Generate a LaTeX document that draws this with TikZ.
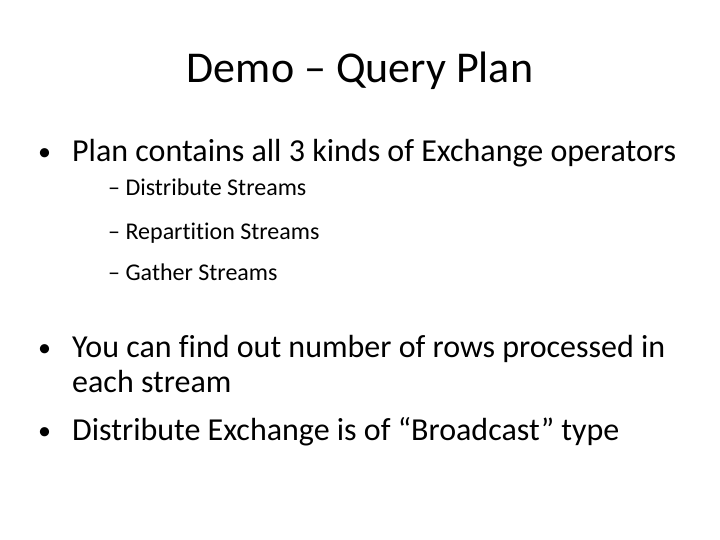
\documentclass[tikz,border=0pt]{standalone}
\usepackage{fontspec}
\setmainfont[Ligatures=NoCommon]{Carlito}
\begin{document}
\begin{tikzpicture}[x=1pt,y=-1pt,
  txt/.style={anchor=base west,inner sep=0pt,font=\fontsize{32}{38}\selectfont},
  bul/.style={anchor=base west,inner sep=0pt,font=\fontsize{26}{30}\selectfont},
  sub/.style={anchor=base west,inner sep=0pt,font=\fontsize{24}{28}\selectfont}]
\useasboundingbox[fill=white] (0,0) rectangle (720,540);
\node[anchor=base,inner sep=0pt,font=\fontsize{44}{50}\selectfont] (title) at (360,83) {Demo – Query Plan};
\node[bul] (b1) at (38,161) {•};
\node[txt] (t1) at (72,162) {Plan contains all 3 kinds of Exchange operators};
\node[sub] (s1) at (108,196) {– Distribute Streams};
\node[sub] (s2) at (108,240) {– Repartition Streams};
\node[sub] (s3) at (108,280) {– Gather Streams};
\node[bul] (b2) at (38,356) {•};
\node[txt] (t2) at (72,357) {You can find out number of rows processed in};
\node[txt] (t2b) at (72,392) {each stream};
\node[bul] (b3) at (38,439) {•};
\node[txt] (t3) at (72,440) {Distribute Exchange is of “Broadcast” type};
\end{tikzpicture}
\end{document}
